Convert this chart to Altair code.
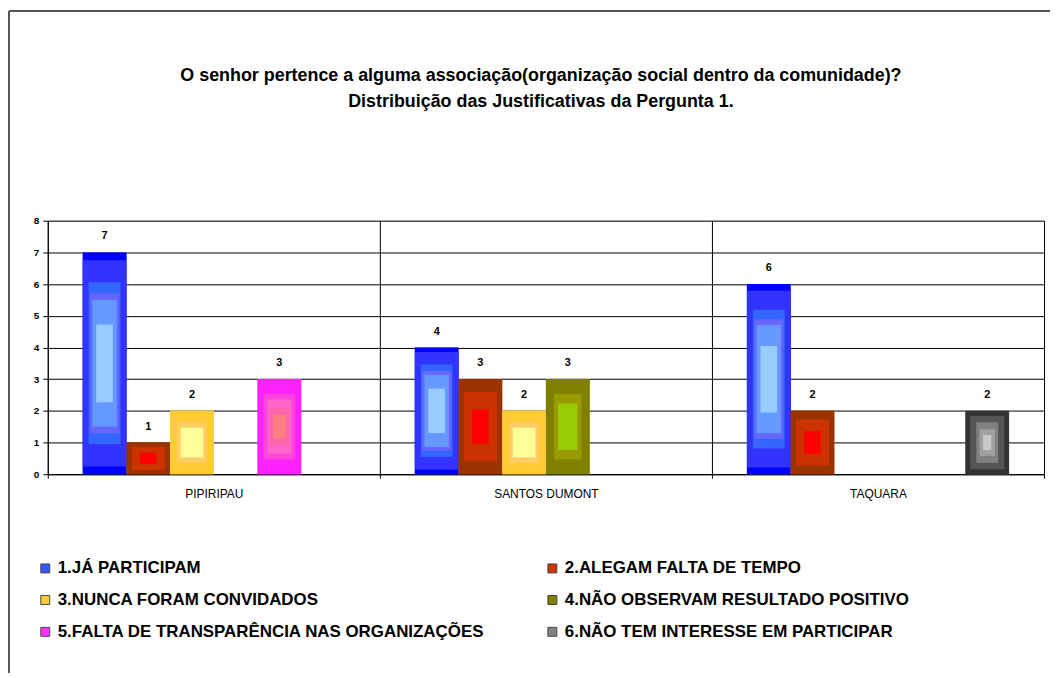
import altair as alt
import pandas as pd

groups = ["PIPIRIPAU", "SANTOS DUMONT", "TAQUARA"]
series = [
    "1.JÁ PARTICIPAM",
    "2.ALEGAM FALTA DE TEMPO",
    "3.NUNCA FORAM CONVIDADOS",
    "4.NÃO OBSERVAM RESULTADO POSITIVO",
    "5.FALTA DE  TRANSPARÊNCIA NAS ORGANIZAÇÕES",
    "6.NÃO TEM INTERESSE EM PARTICIPAR",
]
s1 = [7, 4, 6]
s2 = [1, 3, 2]
s3 = [2, 2, 0]
s4 = [0, 3, 0]
s5 = [3, 0, 0]
s6 = [0, 0, 2]
legend_colors = ["#3A55FF", "#CC3300", "#FFCC33", "#808000", "#FF33FF", "#808080"]

title_lines = [
    "O senhor pertence a alguma associação(organização social dentro da comunidade)?",
    "Distribuição das Justificativas da Pergunta 1.",
]

rows = []
for name, vals in zip(series, [s1, s2, s3, s4, s5, s6]):
    for g, v in zip(groups, vals):
        rows.append({"group": g, "series": name, "value": v})
df = pd.DataFrame(rows)
df = df[df["value"] > 0]

FONT = "Liberation Sans"
W = 1002
H = 255
OUTER = 0.8

# concentric bands (relative width, relative height, colour) imitating the
# rectangular "from centre" gradient fill of each series
bands = [
    [(1.0, 1.0, "#0000FF"), (1.0, 0.93, "#3333FF"), (0.73, 0.73, "#3366FF"),
     (0.67, 0.63, "#6666FF"), (0.56, 0.57, "#6699FF"), (0.38, 0.35, "#99CCFF")],
    [(1.0, 1.0, "#993300"), (0.76, 0.73, "#CC3300"), (0.38, 0.36, "#FF0000")],
    [(1.0, 1.0, "#FFCC33"), (0.68, 0.64, "#FFCC66"), (0.52, 0.47, "#FFFF99")],
    [(1.0, 1.0, "#808000"), (0.63, 0.69, "#999900"), (0.44, 0.49, "#99CC00")],
    [(1.0, 1.0, "#FF22FF"), (0.72, 0.69, "#FF44DD"), (0.55, 0.57, "#FF66CC"),
     (0.43, 0.39, "#FF66AA"), (0.29, 0.25, "#FF8080")],
    [(1.0, 1.0, "#333333"), (0.78, 0.84, "#555555"), (0.5, 0.64, "#808080"),
     (0.35, 0.42, "#A0A0A0"), (0.19, 0.24, "#C8C8C8")],
]

x_enc = alt.X(
    "group:N", sort=groups,
    scale=alt.Scale(paddingInner=0, paddingOuter=0),
    axis=alt.Axis(title=None, tickBand="extent", grid=True, gridColor="black",
                  gridOpacity=1, domainColor="black", tickColor="black", tickSize=4,
                  labelPadding=10, labelFont=FONT, labelFontSize=12, labelColor="black",
                  labelAngle=0),
)


def xo_of(w=1.0):
    # same slot step and centre as the full bars, narrower band width
    if w >= 0.6:
        dom = series
        outer = OUTER + 0.5 - w / 2
    else:
        dom = ["_pad_a"] + series + ["_pad_b"]
        outer = (OUTER - 0.2 - w) / 2
    return alt.XOffset("series:N",
                       scale=alt.Scale(type="band", domain=dom,
                                       paddingInner=round(1 - w, 4),
                                       paddingOuter=round(outer, 4)))


y_axis = alt.Axis(title=None, values=list(range(9)), grid=True, gridColor="black",
                  gridOpacity=1, domainColor="black", tickColor="black", tickSize=5,
                  labelFont=FONT, labelFontWeight="bold", labelFontSize=10,
                  labelColor="black", labelPadding=4)
y_scale = alt.Scale(domain=[0, 8], nice=False)


def y_of(field):
    return alt.Y(field, type="quantitative", scale=y_scale, axis=y_axis)


one = pd.DataFrame({"k": [0]})
frame_top = alt.Chart(one).mark_rule(color="#555555", strokeWidth=2).encode(
    x=alt.value(-39), x2=alt.value(1010), y=alt.value(-211))
frame_left = alt.Chart(one).mark_rule(color="#555555", strokeWidth=2).encode(
    x=alt.value(-39), y=alt.value(-211), y2=alt.value(460))

legend_order = [series[0], series[2], series[4], series[1], series[3], series[5]]
legend_range = [legend_colors[series.index(s)] for s in legend_order]

base = alt.Chart(df).mark_bar().encode(
    x=x_enc, xOffset=xo_of(), y=y_of("value"),
    color=alt.Color("series:N",
                    scale=alt.Scale(domain=legend_order, range=legend_range),
                    legend=alt.Legend(title=None, orient="none", legendX=-11, legendY=341,
                                      columns=2, symbolType="square", symbolSize=81,
                                      symbolStrokeColor="#444444", symbolStrokeWidth=1,
                                      labelFont=FONT, labelFontSize=17,
                                      labelFontWeight="bold", labelColor="black",
                                      labelLimit=700, labelOffset=4,
                                      rowPadding=14, columnPadding=54)),
)

band_layers = []
for name, spec in zip(series, bands):
    for w, h, col in spec:
        band_layers.append(
            alt.Chart(df)
            .transform_filter(alt.datum.series == name)
            .transform_calculate(
                top=alt.datum.value * (1 + h) / 2,
                bot=alt.datum.value * (1 - h) / 2,
            )
            .mark_bar(color=col)
            .encode(x=x_enc, xOffset=xo_of(w), y=y_of("top"), y2="bot:Q")
        )

labels = alt.Chart(df).mark_text(
    dy=-11, baseline="bottom", align="center", font=FONT, fontSize=11,
    fontWeight="bold", color="black",
).encode(x=x_enc, xOffset=xo_of(), y=y_of("value"), text=alt.Text("value:Q"))

chart = alt.layer(frame_top, frame_left, base, *band_layers, labels).resolve_scale(
    xOffset="independent"
).properties(
    width=W,
    height=H,
    title=alt.TitleParams(text=title_lines, font=FONT, fontSize=18, fontWeight="bold",
                          color="black", anchor="middle", baseline="bottom",
                          lineHeight=26, offset=-120, dx=-5),
    autosize=alt.AutoSizeParams(type="none"),
    padding={"left": 40, "top": 212, "right": 6, "bottom": 198},
).configure_view(stroke="black", strokeWidth=1).configure(background="white")

chart.save("out.html", embed_options={"renderer": "svg", "actions": False})
